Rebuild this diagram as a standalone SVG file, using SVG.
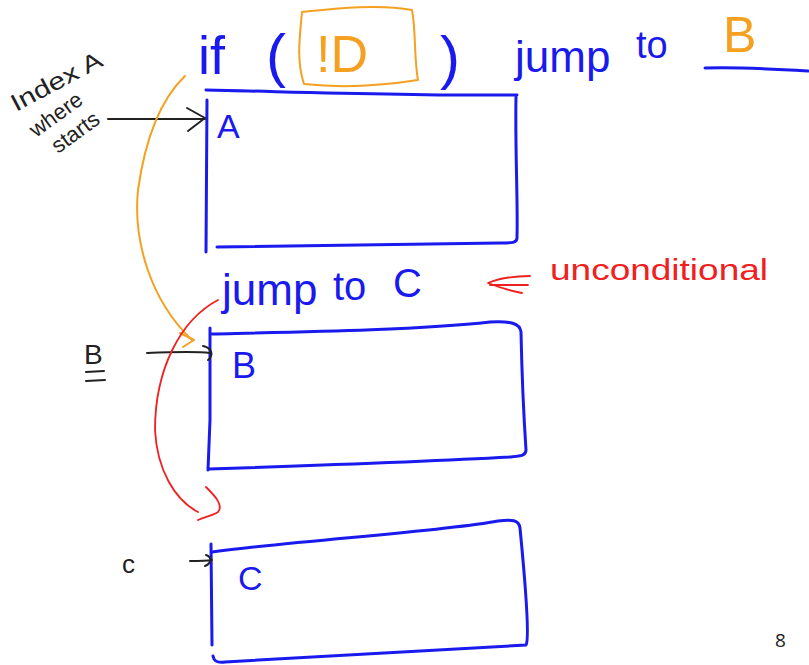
<svg xmlns="http://www.w3.org/2000/svg" width="809" height="665" viewBox="0 0 809 665">
<style>
.blue{fill:none;stroke:#1a1aee;stroke-width:3;stroke-linecap:round;stroke-linejoin:round}
.org{fill:none;stroke:#f5a020;stroke-width:2;stroke-linecap:round;stroke-linejoin:round}
.red{fill:none;stroke:#f02020;stroke-width:1.8;stroke-linecap:round;stroke-linejoin:round}
.blk{fill:none;stroke:#222;stroke-width:2;stroke-linecap:round;stroke-linejoin:round}
.tb{fill:#1a1aee;font-family:"Liberation Sans",Arial,sans-serif}
.to{fill:#f5a020;font-family:"Liberation Sans",Arial,sans-serif}
.tr{fill:#f02020;font-family:"Liberation Sans",Arial,sans-serif}
.tk{fill:#222;font-family:"Liberation Sans",Arial,sans-serif}
</style>
<rect width="809" height="665" fill="#fff"/>

<g id="node-condition">
  <text class="tb" x="198" y="74" font-size="54">if</text>
  <text class="tb" x="266" y="76" font-size="60">(</text>
  <path class="org" d="M302,12 C340,8 380,4 412,10 C416,30 414,60 418,80 C380,86 340,88 304,84 C296,60 300,35 302,12 Z"/>
  <text class="to" x="316" y="72" font-size="52">!D</text>
  <text class="tb" x="440" y="78" font-size="60">)</text>
  <text class="tb" x="515" y="72" font-size="44">jump</text>
  <text class="tb" x="636" y="58" font-size="38">to</text>
  <text class="to" x="723" y="52" font-size="50">B</text>
  <path class="blue" d="M705,68 C740,67 775,69 808,71"/>
</g>

<g id="node-A">
  <path class="blue" d="M206,90 C300,92 420,96 517,95"/>
  <path class="blue" d="M207,100 L206,252"/>
  <path class="blue" d="M516,97 C515,150 518,200 517,238 C517,243 512,243 500,243 C400,244 300,246 217,247"/>
  <text class="tb" x="217" y="138" font-size="34">A</text>
</g>

<g id="label-index">
  <g transform="translate(16,112) rotate(-28)">
    <text class="tk" x="0" y="0" font-size="24" textLength="100" lengthAdjust="spacingAndGlyphs">Index A</text>
  </g>
  <g transform="translate(36,138) rotate(-36)">
    <text class="tk" x="0" y="0" font-size="22">where</text>
  </g>
  <g transform="translate(58,154) rotate(-36)">
    <text class="tk" x="0" y="0" font-size="22">starts</text>
  </g>
</g>

<g id="node-jumpC">
  <text class="tb" x="222" y="305" font-size="44">jump</text>
  <text class="tb" x="333" y="300" font-size="40">to</text>
  <text class="tb" x="393" y="297" font-size="40">C</text>
  <path class="red" d="M530,276 C515,276 500,278 488,283 C498,287 512,291 522,293 M490,285 L528,285"/>
  <text class="tr" x="550" y="280" font-size="30" textLength="218" lengthAdjust="spacingAndGlyphs">unconditional</text>
</g>

<g id="node-B">
  <path class="blue" d="M210,328 L210,420 L208,470"/>
  <path class="blue" d="M212,334 C300,332 420,330 490,322 C510,321 520,323 521,332 C522,380 524,420 526,450 C526,456 520,456 510,457 C420,462 300,466 209,469"/>
  <text class="tb" x="232" y="378" font-size="36">B</text>
  <text class="tk" x="84" y="364" font-size="28">B</text>
  <path class="blk" d="M86,372 L104,371 M86,381 L105,380"/>
</g>

<g id="node-C">
  <path class="blue" d="M211,544 L212,645"/>
  <path class="blue" d="M213,656 C214,662 218,663 225,662 C330,656 430,650 526,645 C529,640 527,600 520,528 C519,520 512,519 498,521 C440,532 300,540 212,552"/>
  <text class="tb" x="238" y="590" font-size="34">C</text>
  <text class="tk" x="122" y="573" font-size="26">c</text>
</g>

<text class="tk" x="775" y="647" font-size="19" style="font-family:'Open Sans','Liberation Sans',sans-serif">8</text>

<g id="connectors">
  <path class="blk" d="M108,119 L205,119"/>
  <path class="blk" d="M187,108 L205,118 L188,131"/>
  <path class="org" d="M185,76 C160,100 145,140 138,190 C133,240 150,300 192,340"/>
  <path class="org" d="M180,333 L194,340 L183,347"/>
  <path class="blk" d="M147,353 C170,352 195,351 210,353"/>
  <path class="blk" d="M203,346 C212,348 214,355 208,360"/>
  <path class="red" d="M218,300 C180,320 155,370 155,430 C157,470 175,500 198,512"/>
  <path class="red" d="M206,487 C214,495 224,505 218,512 C212,516 204,517 198,520"/>
  <path class="blk" d="M190,561 C198,561 206,561 212,560 M206,555 C212,557 212,563 205,566"/>
</g>
</svg>
